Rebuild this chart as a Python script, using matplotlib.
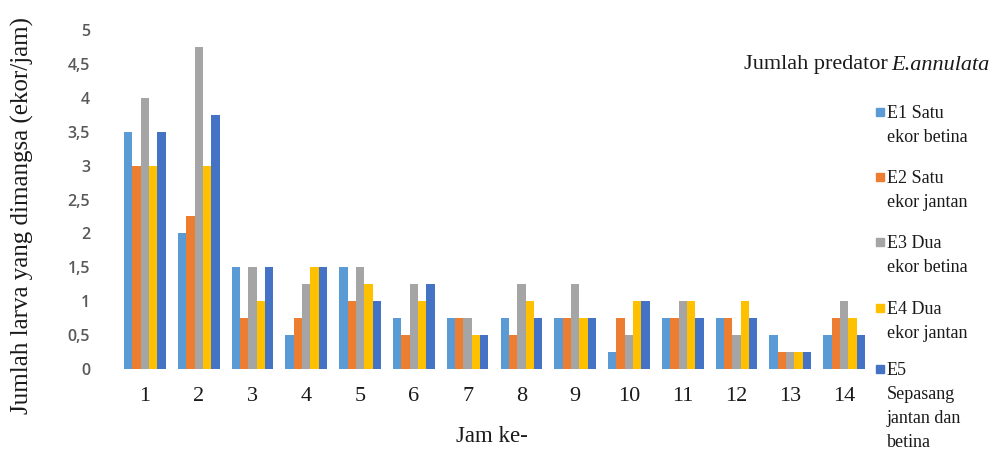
import matplotlib
matplotlib.use("Agg")
import matplotlib.pyplot as plt
import numpy as np
from matplotlib.patches import Rectangle

# ── Data ─────────────────────────────────────────────────────────────────────
jam = [str(i) for i in range(1, 15)]

e1 = [3.5, 2.0, 1.5, 0.5, 1.5, 0.75, 0.75, 0.75, 0.75, 0.25, 0.75, 0.75, 0.5, 0.5]
e2 = [3.0, 2.25, 0.75, 0.75, 1.0, 0.5, 0.75, 0.5, 0.75, 0.75, 0.75, 0.75, 0.25, 0.75]
e3 = [4.0, 4.75, 1.5, 1.25, 1.5, 1.25, 0.75, 1.25, 1.25, 0.5, 1.0, 0.5, 0.25, 1.0]
e4 = [3.0, 3.0, 1.0, 1.5, 1.25, 1.0, 0.5, 1.0, 0.75, 1.0, 1.0, 1.0, 0.25, 0.75]
e5 = [3.5, 3.75, 1.5, 1.5, 1.0, 1.25, 0.5, 0.75, 0.75, 1.0, 0.75, 0.75, 0.25, 0.5]

series = [e1, e2, e3, e4, e5]
labels = [
    "E1 Satu\nekor betina",
    "E2 Satu\nekor jantan",
    "E3 Dua\nekor betina",
    "E4 Dua\nekor jantan",
    "E5\nSepasang\njantan dan\nbetina",
]
colors = ["#5B9BD5", "#ED7D31", "#A5A5A5", "#FFC000", "#4472C4"]

yticks = [0, 0.5, 1, 1.5, 2, 2.5, 3, 3.5, 4, 4.5, 5]

# ── Style ────────────────────────────────────────────────────────────────────
serif = "Liberation Serif"
ink = "#1a1a1a"

fig = plt.figure(figsize=(9.98, 4.54), dpi=100)
ax = fig.add_axes([118 / 998, 85 / 454, (871 - 118) / 998, (369 - 30) / 454])

x = np.arange(1, len(jam) + 1)
width = 0.155
for i, (vals, col) in enumerate(zip(series, colors)):
    ax.bar(x + (i - 2) * width, vals, width, color=col, linewidth=0)

ax.set_xlim(0.5, len(jam) + 0.5)
ax.set_ylim(0, 5)
ax.set_xticks(x)
ax.set_xticklabels(jam, fontfamily=serif, fontsize=16, color=ink)
ax.set_yticks(yticks)
ax.set_yticklabels([f"{v:g}".replace(".", ",") for v in yticks],
                   fontfamily="Open Sans", fontsize=11.5, color="#595959",
                   fontweight="semibold")
ax.tick_params(axis="both", length=0)
ax.tick_params(axis="y", pad=20)
ax.tick_params(axis="x", pad=13)
for s in ax.spines.values():
    s.set_visible(False)

fig.text(22 / 998, 1 - 215 / 454, "Jumlah larva yang dimangsa (ekor/jam)",
         rotation=90, ha="center", va="center", family=serif, fontsize=18,
         color=ink)
fig.text(492 / 998, 1 - 437 / 454, "Jam ke-", ha="center", va="center",
         family=serif, fontsize=16.5, color=ink)

# ── Title: normal text followed by italic species name ──────────────────────
renderer = fig.canvas.get_renderer()
t_it = fig.text(990 / 998, 1 - 65 / 454, "E.annulata", ha="right", va="center",
                family=serif, style="italic", fontsize=16, color=ink)
bb = t_it.get_window_extent(renderer)
fig.text((bb.x0 - 4) / 998, 1 - 65 / 454, "Jumlah predator", ha="right",
         va="center", family=serif, fontsize=16, color=ink)

# ── Legend (markers aligned with first text line) ────────────────────────────
entry_top = [115, 180, 245, 311, 372]
for lab, col, yt in zip(labels, colors, entry_top):
    fy = 1 - yt / 454
    fig.patches.append(Rectangle((876 / 998, fy - 1 / 454), 8 / 998, 8 / 454,
                                 transform=fig.transFigure, color=col))
    fig.text(887 / 998, fy + 10 / 454, lab, ha="left", va="top",
             family=serif, fontsize=13, color=ink, linespacing=1.55)

fig.savefig("out.png", dpi=100)
